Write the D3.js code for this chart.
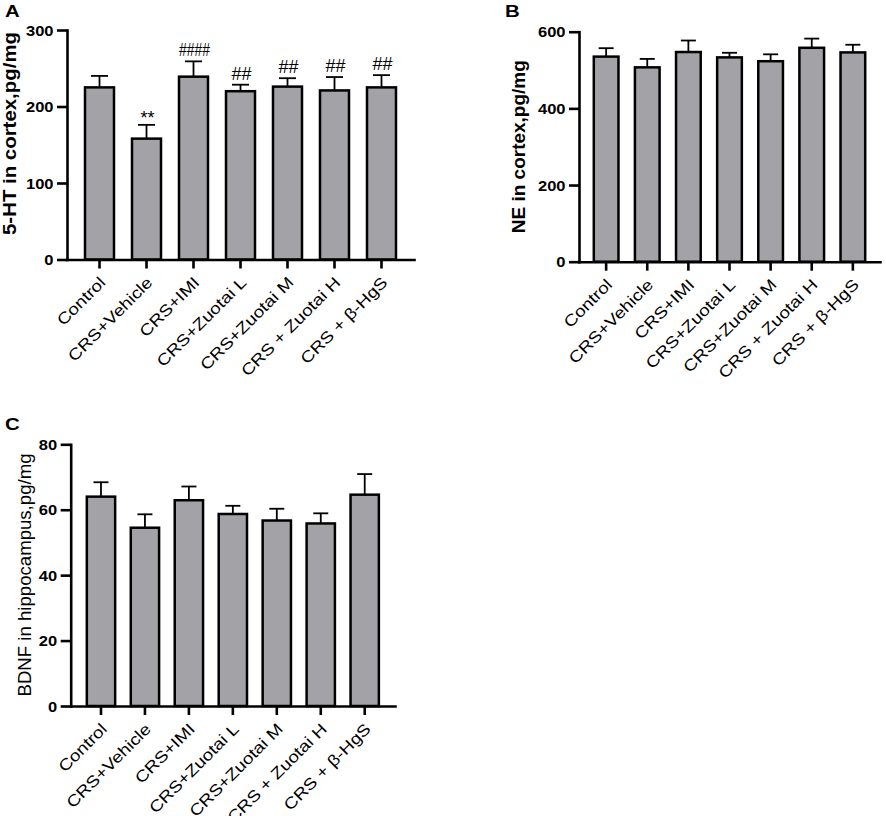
<!DOCTYPE html>
<html>
<head>
<meta charset="utf-8">
<script src="https://cdn.jsdelivr.net/npm/d3@7"></script>
<style>
  html, body { margin: 0; padding: 0; background: #fff; }
  svg { display: block; font-family: "Liberation Sans", Arial, Helvetica, sans-serif; }
</style>
</head>
<body>
<svg id="chart" width="886" height="816"></svg>
<script>
// ---------- data ----------
const categories = ["Control", "CRS+Vehicle", "CRS+IMI", "CRS+Zuotai L", "CRS+Zuotai M", "CRS + Zuotai H", "CRS + β-HgS"];

const htMean = [225, 158, 239, 220, 226, 221, 225];
const htErr  = [15, 18, 20, 8.5, 11, 17.5, 16];
const htSig  = ["", "**", "####", "##", "##", "##", "##"];
const htTicks = [0, 100, 200, 300];

const neMean = [535, 507, 547, 533, 523, 558, 546];
const neErr  = [22, 22, 30, 12, 18, 24, 20];
const neTicks = [0, 200, 400, 600];

const bdnfMean = [64.0, 54.5, 62.9, 58.7, 56.7, 55.8, 64.6];
const bdnfErr  = [4.4, 4.1, 4.2, 2.5, 3.6, 3.1, 6.3];
const bdnfTicks = [0, 20, 40, 60, 80];

// ---------- layout ----------
const panels = [
  { letter: "A", lx: 5, ly: 17, title: "5-HT in cortex,pg/mg", bold: true, tx: 15.5, tcy: 133.5, tlen: 203,
    x0: 67, x1: 414, top: 30, bottom: 259.5, padIn: 0.383, padOut: 0.383, capW: 17,
    mean: htMean, err: htErr, sig: htSig, ticks: htTicks },
  { letter: "B", lx: 505, ly: 17, title: "NE in cortex,pg/mg", bold: true, tx: 525, tcy: 146.7, tlen: 173,
    x0: 579, x1: 880, top: 31.7, bottom: 261.7, padIn: 0.4, padOut: 0.36, capW: 15,
    mean: neMean, err: neErr, sig: null, ticks: neTicks },
  { letter: "C", lx: 5, ly: 430, title: "BDNF in hippocampus,pg/mg", bold: false, tx: 30.5, tcy: 575, tlen: 243,
    x0: 70.7, x1: 395, top: 444.3, bottom: 706, padIn: 0.356, padOut: 0.367, capW: 15,
    mean: bdnfMean, err: bdnfErr, sig: null, ticks: bdnfTicks }
];

const svg = d3.select("#chart");
const barFill = "#a3a3a7";
const stretch = 1.18;

panels.forEach(p => {
  const g = svg.append("g");
  const x = d3.scaleBand().domain(categories).range([p.x0, p.x1])
    .paddingInner(p.padIn).paddingOuter(p.padOut);
  const yMax = p.ticks[p.ticks.length - 1];
  const y = d3.scaleLinear().domain([0, yMax]).range([p.bottom, p.top]);

  const rows = categories.map((c, i) => ({ c, m: p.mean[i], e: p.err[i], s: p.sig ? p.sig[i] : "" }));

  // error bars (upper only)
  const eb = g.append("g").attr("stroke", "#000").attr("stroke-width", 1.8).attr("fill", "none");
  rows.forEach(r => {
    const cx = x(r.c) + x.bandwidth() / 2;
    eb.append("line").attr("x1", cx).attr("x2", cx).attr("y1", y(r.m)).attr("y2", y(r.m + r.e));
    eb.append("line").attr("x1", cx - p.capW / 2).attr("x2", cx + p.capW / 2)
      .attr("y1", y(r.m + r.e)).attr("y2", y(r.m + r.e));
  });

  // bars
  g.append("g").selectAll("rect").data(rows).join("rect")
    .attr("x", d => x(d.c))
    .attr("y", d => y(d.m))
    .attr("width", x.bandwidth())
    .attr("height", d => y(0) - y(d.m))
    .attr("fill", barFill)
    .attr("stroke", "#000")
    .attr("stroke-width", 2.5);

  // significance marks
  g.append("g").selectAll("text").data(rows.filter(r => r.s)).join("text")
    .attr("x", d => x(d.c) + x.bandwidth() / 2 + 1)
    .attr("y", d => y(d.m + d.e) - (d.s[0] === "*" ? 1 : 5))
    .attr("text-anchor", "middle")
    .attr("font-size", 18)
    .attr("fill", "#000")
    .each(function(d) {
      if (d.s.length === 4) d3.select(this).attr("textLength", 31).attr("lengthAdjust", "spacingAndGlyphs");
    })
    .text(d => d.s);

  // y axis
  const ya = g.append("g").attr("transform", `translate(${p.x0},0)`)
    .call(d3.axisLeft(y).tickValues(p.ticks).tickSize(10).tickSizeOuter(0).tickFormat(d3.format("d")));
  ya.select(".domain").attr("stroke-width", 2.6).attr("stroke-linecap", "square");
  ya.selectAll(".tick line").attr("stroke-width", 2.6);
  ya.selectAll(".tick text")
    .attr("x", 0).attr("dy", "0.36em")
    .attr("transform", `translate(-13.5,0) scale(${stretch},1)`)
    .attr("font-size", 14).attr("font-weight", "bold").attr("fill", "#000");

  // x axis
  const xa = g.append("g").attr("transform", `translate(0,${p.bottom})`)
    .call(d3.axisBottom(x).tickSize(9).tickSizeOuter(0));
  xa.select(".domain").attr("stroke-width", 2.6).attr("stroke-linecap", "square");
  xa.selectAll(".tick line").attr("stroke-width", 2.6);
  xa.selectAll(".tick text")
    .attr("x", 0).attr("y", 0).attr("dy", 0)
    .attr("transform", `translate(7,24) rotate(-45) scale(${stretch},1)`)
    .attr("text-anchor", "end")
    .attr("font-size", 16).attr("fill", "#000");
  ya.attr("font-family", null); xa.attr("font-family", null);

  // y title
  g.append("text")
    .attr("transform", `translate(${p.tx},${p.tcy}) rotate(-90)`)
    .attr("text-anchor", "middle")
    .attr("font-size", 17.5)
    .attr("font-weight", p.bold ? "bold" : "normal")
    .attr("textLength", p.tlen).attr("lengthAdjust", "spacingAndGlyphs")
    .text(p.title);

  // panel letter
  g.append("text")
    .attr("transform", `translate(${p.lx},${p.ly}) scale(1.2,1)`)
    .attr("font-size", 17).attr("font-weight", "bold")
    .text(p.letter);
});
</script>
</body>
</html>
